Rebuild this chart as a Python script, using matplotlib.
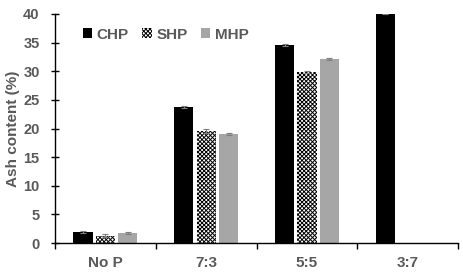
import numpy as np
import matplotlib
matplotlib.use("Agg")
import matplotlib.pyplot as plt

plt.rcParams['font.family'] = ['Liberation Sans', 'DejaVu Sans']
plt.rcParams['hatch.linewidth'] = 0.7

categories = ['No P', '7:3', '5:5', '3:7']
chp = [1.9, 23.7, 34.6, 40.0]
shp = [1.3, 19.5, 29.9, np.nan]
mhp = [1.7, 19.1, 32.1, np.nan]
chp_err = [0.15, 0.15, 0.2, 0.0]
shp_err = [0.2, 0.35, 0.15, np.nan]
mhp_err = [0.2, 0.15, 0.2, np.nan]

grey = '#595959'
fig = plt.figure(figsize=(4.64, 2.74), dpi=100)
ax = fig.add_axes([0.1185, 0.113, 0.869, 0.836])

x = np.arange(len(categories))
w = 0.19
step = 0.222
ekw = dict(ecolor='#7f7f7f', elinewidth=0.8, capsize=2, capthick=0.8)
ax.bar(x - step, chp, w, yerr=chp_err, color='black', label='CHP', error_kw=ekw)
ax.bar(x, shp, w, yerr=shp_err, color='white', edgecolor='black', linewidth=0,
       hatch='xxxxxxxx', label='SHP', error_kw=ekw)
ax.bar(x + step, mhp, w, yerr=mhp_err, color='#a6a6a6', label='MHP', error_kw=ekw)

ax.set_xlim(-0.5, len(categories) - 0.5)
ax.set_ylim(0, 40)
ax.set_yticks(np.arange(0, 41, 5))
ax.set_xticks(x)
ax.set_xticklabels(categories)
ax.set_xticks(np.arange(-0.5, len(categories), 1), minor=True)
ax.tick_params(axis='x', which='major', length=0, pad=9)
ax.tick_params(axis='x', which='minor', length=4, direction='out', width=1)
ax.tick_params(axis='y', direction='inout', length=6, width=1, pad=8)
for lab in ax.get_xticklabels():
    lab.set_color(grey)
    lab.set_fontweight('bold')
    lab.set_fontsize(11)
for lab in ax.get_yticklabels():
    lab.set_color(grey)
    lab.set_fontweight('bold')
    lab.set_fontsize(10.5)
for s in ['top', 'right']:
    ax.spines[s].set_visible(False)
for s in ['left', 'bottom']:
    ax.spines[s].set_linewidth(1)
ax.set_ylabel('Ash content (%)', color=grey, fontweight='bold', fontsize=11, labelpad=2)

leg = ax.legend(loc='upper left', bbox_to_anchor=(0.035, 1.0), ncol=3, frameon=False,
                handlelength=0.6, handleheight=0.6, handletextpad=0.3,
                columnspacing=0.9, prop={'weight': 'bold', 'size': 11})
for t in leg.get_texts():
    t.set_color(grey)

fig.savefig('out.png', dpi=100)
